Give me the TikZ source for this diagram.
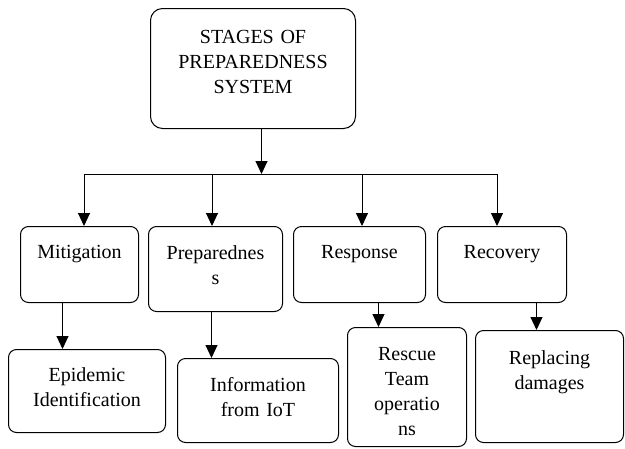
\documentclass[tikz,border=0pt]{standalone}
\usepackage{fontspec}
\setmainfont{Liberation Serif}
\usepackage{tikz}
\usetikzlibrary{arrows.meta}

\begin{document}
\begin{tikzpicture}[x=1pt, y=-1pt, >={Triangle[width=12pt,length=13pt]}, line width=1pt,
  bx/.style={draw, rounded corners=8pt, anchor=north west, inner sep=0pt, align=center,
    font=\fontsize{20}{25}\selectfont},
  hd/.style={bx, rounded corners=12pt}]
\useasboundingbox (0,0) rectangle (625,448);
\node[hd, text width=205pt, text height=35pt, text depth=85pt] (top) at (150,8) {STAGES OF\\PREPAREDNESS\\SYSTEM};
% stages
\node[bx, text width=118pt, text height=32pt, text depth=44pt] (mit) at (20,226) {Mitigation};
\node[bx, text width=134pt, text height=33pt, text depth=52pt] (prep) at (148,226) {Preparednes\\s};
\node[bx, text width=132pt, text height=32pt, text depth=44pt] (resp) at (293,226) {Response};
\node[bx, text width=129pt, text height=32pt, text depth=44pt] (rec) at (437,226) {Recovery};
% what each stage does
\node[bx, text width=157pt, text height=32pt, text depth=51pt] (epi) at (8,349) {Epidemic\\Identification};
\node[bx, text width=161pt, text height=33pt, text depth=51pt] (info) at (177,358) {Information\\from IoT};
\node[bx, text width=119pt, text height=33pt, text depth=86pt] (resc) at (347,327) {Rescue\\Team\\operatio\\ns};
\node[bx, text width=148pt, text height=34pt, text depth=78pt] (rep) at (475,330) {Replacing\\damages};
% bar
\coordinate (barL) at (84,174);
\coordinate (barR) at (497,174);
\coordinate (b2) at (212,174);
\coordinate (b3) at (362,174);
\draw (barL) -- (barR);
\draw[->] ([xshift=8.5pt]top.south) -- ([xshift=8.5pt]top.south |- barL);
\draw[->] (barL) -- (barL |- mit.north);
\draw[->] (b2) -- (b2 |- prep.north);
\draw[->] (b3) -- (b3 |- resp.north);
\draw[->] (barR) -- (barR |- rec.north);
\draw[->] ([xshift=-17pt]mit.south) -- ([xshift=-17pt]mit.south |- epi.north);
\draw[->] ([xshift=-4pt]prep.south) -- ([xshift=-4pt]prep.south |- info.north);
\draw[->] ([xshift=19pt]resp.south) -- ([xshift=19pt]resp.south |- resc.north);
\draw[->] ([xshift=34.5pt]rec.south) -- ([xshift=34.5pt]rec.south |- rep.north);
\end{tikzpicture}
\end{document}
